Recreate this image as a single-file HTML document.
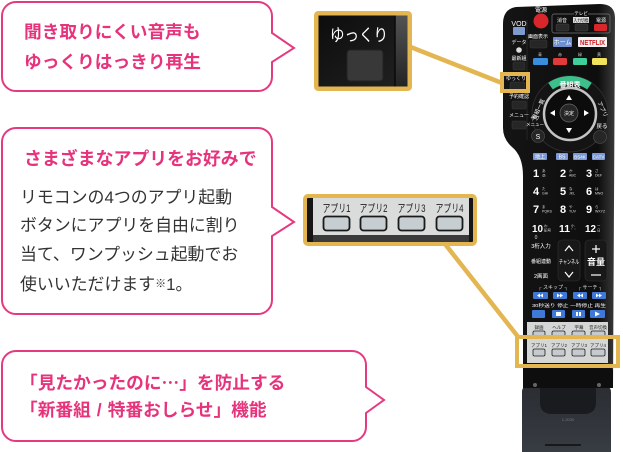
<!DOCTYPE html>
<html><head><meta charset="utf-8">
<style>
html,body{margin:0;padding:0;background:#fff;}
body{width:623px;height:452px;position:relative;overflow:hidden;font-family:"Liberation Sans","Noto Sans CJK JP",sans-serif;}
svg{position:absolute;left:0;top:0;}
.t{position:absolute;white-space:nowrap;font-family:"Liberation Sans","Noto Sans CJK JP",sans-serif;}
.p{color:#e6337c;font-weight:700;font-size:17.7px;line-height:30px;}
.b{color:#333;font-weight:400;font-size:16.9px;line-height:28.7px;}
.cj{font-family:"Noto Sans CJK JP",sans-serif;}
svg text{font-family:"Liberation Sans","Noto Sans CJK JP",sans-serif;}
</style></head><body>
<svg width="623" height="452" viewBox="0 0 623 452">
<defs>
<linearGradient id="body" x1="0" x2="1" y1="0" y2="0">
<stop offset="0" stop-color="#141414"/><stop offset="0.85" stop-color="#0e0e0e"/><stop offset="1" stop-color="#3a3a3a"/>
</linearGradient>
<linearGradient id="stand" x1="0" x2="0" y1="0" y2="1">
<stop offset="0" stop-color="#2a2d32"/><stop offset="1" stop-color="#383c43"/>
</linearGradient>
<linearGradient id="c1" x1="0" x2="1" y1="0" y2="1">
<stop offset="0" stop-color="#0c0c0c"/><stop offset="1" stop-color="#222"/>
</linearGradient>
<linearGradient id="strip" x1="0" x2="0" y1="0" y2="1">
<stop offset="0" stop-color="#555"/><stop offset="1" stop-color="#222"/>
</linearGradient>
</defs>

<!-- bubbles -->
<path d="M16,2 H258 A14,14 0 0 1 272,16 V33 L294,48 L272,62 V77 A14,14 0 0 1 258,91 H16 A14,14 0 0 1 2,77 V16 A14,14 0 0 1 16,2 Z" fill="#fff" stroke="#e63a80" stroke-width="2"/>
<path d="M16,128 H258 A14,14 0 0 1 272,142 V207 L294,222 L272,236 V300 A14,14 0 0 1 258,314 H16 A14,14 0 0 1 2,300 V142 A14,14 0 0 1 16,128 Z" fill="#fff" stroke="#e63a80" stroke-width="2"/>
<path d="M16,351 H352 A14,14 0 0 1 366,365 V387 L384,400 L366,413 V427 A14,14 0 0 1 352,441 H16 A14,14 0 0 1 2,427 V365 A14,14 0 0 1 16,351 Z" fill="#fff" stroke="#e63a80" stroke-width="2"/>

<!-- remote body -->
<path d="M503,24 Q503,9 516,7 L600,4 Q615,4 615,18 L613,388 L523,388 L523,176 Q523,156 512,147 Q503,139 503,128 Z" fill="url(#body)"/>
<line x1="527" y1="20" x2="527" y2="140" stroke="#262626" stroke-width="1"/>

<!-- top section -->
<text x="541" y="12" font-size="6" fill="#fff" text-anchor="middle">電源</text>
<circle cx="541" cy="21" r="7.5" fill="#d8262b"/>
<rect x="552" y="14" width="58" height="19" rx="2" fill="none" stroke="#777" stroke-width="0.7"/>
<rect x="574" y="10" width="14" height="6" fill="#111"/>
<text x="581" y="15" font-size="4.5" fill="#fff" text-anchor="middle">テレビ</text>
<text x="562" y="22" font-size="5" fill="#fff" text-anchor="middle">消音</text>
<rect x="573" y="17" width="16" height="6" fill="#ddd"/>
<text x="581" y="22" font-size="4.5" fill="#111" text-anchor="middle" textLength="15" lengthAdjust="spacingAndGlyphs">入力切換</text>
<text x="601" y="22" font-size="5" fill="#fff" text-anchor="middle">電源</text>
<rect x="556" y="24" width="13" height="7" rx="1.5" fill="#2a2a2a" stroke="#444" stroke-width="0.5"/>
<rect x="575" y="24" width="13" height="7" rx="1.5" fill="#2a2a2a" stroke="#444" stroke-width="0.5"/>
<rect x="594" y="24" width="13" height="7" rx="1.5" fill="#d8262b"/>

<text x="519" y="26" font-size="7" fill="#fff" text-anchor="middle">VOD</text>
<rect x="513" y="27" width="12" height="8" rx="1" fill="#7e9bd0"/>
<text x="519" y="44" font-size="5" fill="#fff" text-anchor="middle">データ</text>
<circle cx="519" cy="50" r="2.8" fill="#ddd"/>
<text x="519" y="60" font-size="5" fill="#fff" text-anchor="middle">最新組</text>
<rect x="513" y="62" width="12" height="8" rx="1" fill="#262626" stroke="#3a3a3a" stroke-width="0.5"/>

<text x="538" y="38" font-size="5" fill="#fff" text-anchor="middle">画面表示</text>
<rect x="530" y="40" width="17" height="8" rx="1.5" fill="#262626" stroke="#3a3a3a" stroke-width="0.5"/>
<rect x="553" y="37" width="19" height="10" rx="1" fill="#6f8fcf"/>
<text x="562.5" y="44.5" font-size="6" fill="#fff" text-anchor="middle">ホーム</text>
<rect x="578" y="37" width="29" height="10" rx="1" fill="#f2f2f2"/>
<text x="592.5" y="45" font-size="7" font-weight="700" fill="#d11d25" text-anchor="middle" textLength="25" lengthAdjust="spacingAndGlyphs">NETFLIX</text>

<text x="540" y="56" font-size="4" fill="#ccc" text-anchor="middle">青</text>
<text x="560" y="56" font-size="4" fill="#ccc" text-anchor="middle">赤</text>
<text x="580" y="56" font-size="4" fill="#ccc" text-anchor="middle">緑</text>
<text x="599" y="56" font-size="4" fill="#ccc" text-anchor="middle">黄</text>
<rect x="533" y="58" width="15" height="7" rx="1.5" fill="#3a8ee0"/>
<rect x="553" y="58" width="14" height="7" rx="1.5" fill="#e03a3a"/>
<rect x="573" y="58" width="14" height="7" rx="1.5" fill="#3fcf9a"/>
<rect x="592" y="58" width="15" height="7" rx="1.5" fill="#f0e25a"/>

<text x="516" y="80" font-size="5" fill="#fff" text-anchor="middle">ゆっくり</text>
<rect x="510" y="82" width="15" height="8" rx="1" fill="#262626" stroke="#3a3a3a" stroke-width="0.5"/>
<text x="519" y="98" font-size="5" fill="#fff" text-anchor="middle">予約確認</text>
<rect x="512" y="101" width="14" height="8" rx="1" fill="#262626" stroke="#3a3a3a" stroke-width="0.5"/>
<text x="519" y="117" font-size="5" fill="#fff" text-anchor="middle">メニュー</text>
<rect x="512" y="121" width="14" height="8" rx="1" fill="#262626" stroke="#3a3a3a" stroke-width="0.5"/>

<!-- d-pad -->
<circle cx="570" cy="114" r="38" fill="#141414" stroke="#2e2e2e" stroke-width="1"/>
<path d="M548.2,82.9 A38,38 0 0 1 591.8,82.9 L587.2,89.4 A30,30 0 0 0 552.8,89.4 Z" fill="#3dbf8c"/>
<text x="570" y="87" font-size="7" font-weight="700" fill="#fff" text-anchor="middle">番組表</text>
<text x="540" y="110" font-size="5.5" fill="#fff" text-anchor="middle" transform="rotate(-65 540 110)">番組一覧</text>
<text x="601" y="110" font-size="5.5" fill="#fff" text-anchor="middle" transform="rotate(65 601 110)">アプリ</text>
<circle cx="570" cy="114" r="26" fill="#0c0c0c" stroke="#c4c4c4" stroke-width="2.5"/>
<circle cx="569" cy="113" r="9" fill="#262626" stroke="#666" stroke-width="0.7"/>
<text x="569" y="115" font-size="5" fill="#fff" text-anchor="middle">決定</text>
<path d="M569,95 L572,100 L566,100 Z" fill="#fff"/>
<path d="M569,133 L572,128 L566,128 Z" fill="#fff"/>
<path d="M550,113 L555,110 L555,116 Z" fill="#fff"/>
<path d="M589,113 L584,110 L584,116 Z" fill="#fff"/>
<text x="535" y="120" font-size="4.5" fill="#fff" text-anchor="middle">サブ</text>
<text x="535" y="126" font-size="4.5" fill="#fff" text-anchor="middle">メニュー</text>
<circle cx="538" cy="136" r="6.5" fill="#262626" stroke="#555" stroke-width="0.6"/>
<text x="538" y="139" font-size="7" fill="#fff" text-anchor="middle">S</text>
<text x="602" y="128" font-size="5.5" fill="#fff" text-anchor="middle">戻る</text>
<circle cx="600" cy="137" r="6.5" fill="#262626" stroke="#555" stroke-width="0.6"/>

<!-- broadcast row -->
<rect x="533" y="153" width="14" height="7" rx="1" fill="#7c9ad6"/>
<rect x="556" y="153" width="12" height="7" rx="1" fill="#7c9ad6"/>
<rect x="573" y="153" width="14" height="7" rx="1" fill="#7c9ad6"/>
<rect x="592" y="153" width="13" height="7" rx="1" fill="#7c9ad6"/>
<text x="540" y="158.5" font-size="5" fill="#fff" text-anchor="middle">地上</text>
<text x="562" y="158.5" font-size="5" fill="#fff" text-anchor="middle">BS</text>
<text x="580" y="158.5" font-size="4.5" fill="#fff" text-anchor="middle">BS4K</text>
<text x="598.5" y="158.5" font-size="4.5" fill="#fff" text-anchor="middle">CATV</text>

<!-- numbers -->
<g fill="#fff" font-weight="700" font-size="11">
<text x="533" y="177">1</text><text x="560" y="177">2</text><text x="586" y="177">3</text>
<text x="533" y="195">4</text><text x="560" y="195">5</text><text x="586" y="195">6</text>
<text x="533" y="213">7</text><text x="560" y="213">8</text><text x="586" y="213">9</text>
<text x="532" y="232" font-size="10" textLength="11" lengthAdjust="spacingAndGlyphs">10</text>
<text x="559" y="232" font-size="10" textLength="11" lengthAdjust="spacingAndGlyphs">11</text>
<text x="585" y="232" font-size="10" textLength="11" lengthAdjust="spacingAndGlyphs">12</text>
</g>
<g fill="#ddd" font-size="3.5">
<text x="542" y="172">あ</text><text x="542" y="176.5">@.</text>
<text x="569" y="172">か</text><text x="569" y="176.5">ABC</text>
<text x="595" y="172">さ</text><text x="595" y="176.5">DEF</text>
<text x="542" y="190">た</text><text x="542" y="194.5">GHI</text>
<text x="569" y="190">な</text><text x="569" y="194.5">JKL</text>
<text x="595" y="190">は</text><text x="595" y="194.5">MNO</text>
<text x="542" y="208">ま</text><text x="542" y="212.5">PQRS</text>
<text x="569" y="208">や</text><text x="569" y="212.5">TUV</text>
<text x="595" y="208">ら</text><text x="595" y="212.5">WXYZ</text>
<text x="544" y="227">わ</text><text x="544" y="231.5">記号</text>
<text x="571" y="227">小</text><text x="571" y="231.5">゛゜</text>
<text x="597" y="227">ー</text><text x="597" y="231.5">日</text>
</g>
<text x="536" y="239" font-size="5" fill="#ddd" text-anchor="middle">0</text>
<text x="541" y="248" font-size="5.5" fill="#fff" text-anchor="middle">3桁入力</text>
<text x="541" y="263" font-size="5" fill="#fff" text-anchor="middle">番組連動</text>
<text x="541" y="278" font-size="5.5" fill="#fff" text-anchor="middle">2画面</text>
<rect x="558" y="240" width="22" height="41" rx="4" fill="#181818" stroke="#333" stroke-width="0.6"/>
<rect x="585" y="240" width="22" height="41" rx="4" fill="#181818" stroke="#333" stroke-width="0.6"/>
<path d="M565,251 L569,246 L573,251" fill="none" stroke="#fff" stroke-width="1.2"/>
<path d="M565,272 L569,277 L573,272" fill="none" stroke="#fff" stroke-width="1.2"/>
<text x="569" y="264" font-size="6" fill="#fff" text-anchor="middle" textLength="20" lengthAdjust="spacingAndGlyphs">チャンネル</text>
<path d="M592,249 H600 M596,245 V253" stroke="#fff" stroke-width="1.2"/>
<text x="596" y="265" font-size="9" font-weight="700" fill="#fff" text-anchor="middle">音量</text>
<path d="M591,275 H601" stroke="#fff" stroke-width="1.2"/>

<text x="553" y="289" font-size="5" fill="#ddd" text-anchor="middle">┌ スキップ ┐</text>
<text x="590" y="289" font-size="5" fill="#ddd" text-anchor="middle">┌ サーチ ┐</text>
<g fill="#3f78d6">
<rect x="533" y="292" width="15" height="7" rx="1"/>
<rect x="553" y="292" width="14" height="7" rx="1"/>
<rect x="573" y="292" width="14" height="7" rx="1"/>
<rect x="592" y="292" width="14" height="7" rx="1"/>
<rect x="532" y="310" width="13" height="8" rx="1"/>
<rect x="552" y="310" width="13" height="8" rx="1"/>
<rect x="572" y="310" width="13" height="8" rx="1"/>
<rect x="590" y="310" width="15" height="8" rx="1"/>
</g>
<g fill="#fff">
<path d="M537,295.5 L540,293.5 V297.5 Z M540,295.5 L543,293.5 V297.5 Z"/>
<path d="M563,295.5 L560,293.5 V297.5 Z M560,295.5 L557,293.5 V297.5 Z"/>
<path d="M577,295.5 L580,293.5 V297.5 Z M580,295.5 L583,293.5 V297.5 Z"/>
<path d="M602,295.5 L599,293.5 V297.5 Z M599,295.5 L596,293.5 V297.5 Z"/>
<rect x="556" y="312" width="5" height="4"/>
<rect x="576" y="312" width="2" height="4"/><rect x="579" y="312" width="2" height="4"/>
<path d="M595,311.5 L600,314 L595,316.5 Z"/>
</g>
<text x="569" y="307" font-size="4.5" fill="#fff" text-anchor="middle" textLength="74" lengthAdjust="spacingAndGlyphs">30秒送り 停止 一時停止 再生</text>

<!-- light panel -->
<rect x="527" y="322" width="81" height="41" fill="#d5d7d7"/>
<g font-size="4.5" fill="#222" text-anchor="middle">
<text x="539" y="329">録画</text><text x="559" y="329">ヘルプ</text><text x="579" y="329">字幕</text><text x="598" y="329">音声切換</text>
<text x="539" y="347">アプリ1</text><text x="559" y="347">アプリ2</text><text x="579" y="347">アプリ3</text><text x="598" y="347">アプリ4</text>
</g>
<g fill="#c4cacd" stroke="#222" stroke-width="0.8">
<rect x="533" y="331" width="12" height="6" rx="1.5"/><rect x="552" y="331" width="13" height="6" rx="1.5"/>
<rect x="572" y="331" width="13" height="6" rx="1.5"/><rect x="591" y="331" width="14" height="6" rx="1.5"/>
<rect x="533" y="349" width="12" height="7" rx="1.5"/><rect x="552" y="349" width="13" height="7" rx="1.5"/>
<rect x="572" y="349" width="13" height="7" rx="1.5"/><rect x="591" y="349" width="14" height="7" rx="1.5"/>
</g>

<!-- stand -->
<path d="M522,392 Q522,386 528,386 L604,386 Q611,386 611,392 L611,452 L522,452 Z" fill="url(#stand)"/>
<path d="M540,386 L596,386 L596,402 Q596,414 584,414 L552,414 Q540,414 540,402 Z" fill="#1a1b1e"/>
<path d="M523,372 Q523,366 530,366 L606,366 Q613,366 613,372 L613,388 L523,388 Z" fill="#0e0e0e"/>
<circle cx="535" cy="385" r="2" fill="#666"/><circle cx="599" cy="385" r="2" fill="#666"/>
<text x="568" y="421" font-size="4" fill="#777" text-anchor="middle">1-2030</text>
<rect x="545" y="444" width="36" height="2" fill="#18191b"/>

<!-- gold boxes on remote -->
<rect x="502" y="74" width="26" height="17" fill="none" stroke="#e3b652" stroke-width="4"/>
<rect x="517" y="337" width="101" height="29" fill="none" stroke="#e3b652" stroke-width="4"/>

<!-- connectors -->
<line x1="408" y1="46" x2="502" y2="83" stroke="#e3b652" stroke-width="4.5"/>
<line x1="445" y1="244" x2="519" y2="338" stroke="#e3b652" stroke-width="4.5"/>

<!-- callout 1 -->
<rect x="316" y="13" width="94" height="76" fill="url(#c1)"/>
<rect x="395" y="13" width="15" height="76" fill="url(#strip)"/>
<line x1="395" y1="13" x2="395" y2="89" stroke="#0a0a0a" stroke-width="1.5"/>
<text x="359" y="41" font-size="17" fill="#fff" text-anchor="middle" textLength="58" lengthAdjust="spacingAndGlyphs">ゆっくり</text>
<rect x="347" y="50" width="36" height="31" rx="3" fill="#383838" stroke="#222" stroke-width="1"/>
<rect x="316.25" y="13.25" width="93.5" height="75.5" rx="2" fill="none" stroke="#e3b652" stroke-width="4.5"/>

<!-- callout 2 -->
<rect x="305" y="196" width="170" height="48" fill="#151515"/>
<rect x="313" y="198" width="156" height="37" fill="#dadcdc"/>
<rect x="313" y="235" width="156" height="7" fill="#3b3b3b"/>
<g font-size="11" fill="#222" text-anchor="middle">
<text x="336.5" y="212" textLength="28" lengthAdjust="spacingAndGlyphs">アプリ1</text>
<text x="373.5" y="212" textLength="28" lengthAdjust="spacingAndGlyphs">アプリ2</text>
<text x="411.5" y="212" textLength="28" lengthAdjust="spacingAndGlyphs">アプリ3</text>
<text x="449.5" y="212" textLength="28" lengthAdjust="spacingAndGlyphs">アプリ4</text>
</g>
<g fill="#c6ced2" stroke="#1a1a1a" stroke-width="1.8">
<rect x="323.5" y="216.5" width="26" height="14" rx="3"/>
<rect x="360.5" y="216.5" width="26" height="14" rx="3"/>
<rect x="398.5" y="216.5" width="26" height="14" rx="3"/>
<rect x="436.5" y="216.5" width="26" height="14" rx="3"/>
</g>
<rect x="305" y="196" width="170" height="48" rx="3" fill="none" stroke="#e3b652" stroke-width="4"/>
</svg>

<div class="t p" style="left:24px;top:17px">聞き取りにくい音声も</div>
<div class="t p" style="left:24px;top:47px">ゆっくりはっきり再生</div>
<div class="t p" style="left:24px;top:144px;font-size:17.9px">さまざまなアプリをお好みで</div>
<div class="t b" style="left:20px;top:183.6px">リモコンの4つのアプリ起動</div>
<div class="t b" style="left:20px;top:212.3px">ボタンにアプリを自由に割り</div>
<div class="t b" style="left:20px;top:241px">当て、ワンプッシュ起動でお</div>
<div class="t b" style="left:20px;top:269.7px">使いいただけます<span style="font-size:11px;vertical-align:3px">※</span>1。</div>
<div class="t p" style="left:20px;top:367px">「見たかったのに<span class="cj">…</span>」を防止する</div>
<div class="t p" style="left:20px;top:395px">「新番組<span style="margin:0 6px">/</span>特番おしらせ」機能</div>
</body></html>
